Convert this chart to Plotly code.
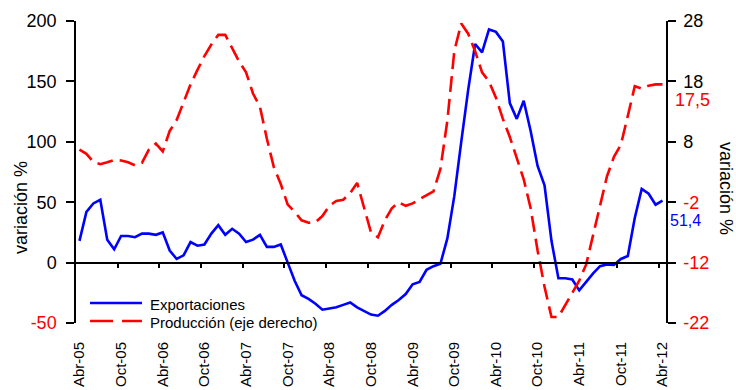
import plotly.graph_objects as go

# Monthly categories, Abr-05 .. Abr-12
abrev = ["Ene", "Feb", "Mar", "Abr", "May", "Jun", "Jul", "Ago", "Sep", "Oct", "Nov", "Dic"]
meses = [f"{abrev[(3 + k) % 12]}-{(5 + (3 + k) // 12):02d}" for k in range(85)]
idx = list(range(len(meses)))

# Exportaciones, variación % (eje izquierdo)
exportaciones = [
    18, 42, 49, 52, 19, 11, 22, 22, 21, 24, 24, 23, 25, 10, 3, 6, 17, 14, 15, 24,
    31, 23, 28, 24, 17, 19, 23, 13, 13, 15, 0, -15, -27, -30, -34, -39, -38, -37, -35, -33,
    -37, -40, -43, -44, -40, -35, -31, -26, -18, -16, -6, -3, -1, 20, 55, 100, 143, 181, 174, 193,
    191, 183, 132, 119, 134, 109, 80, 64, 18, -13, -13, -14, -23, -16, -9, -3, -1.5, -2, 3, 5.5,
    37, 61, 57, 48, 51.4,
]

# Producción, variación % (eje derecho)
produccion = [
    6.7, 6.0, 4.7, 4.3, 4.6, 5.0, 4.9, 4.6, 4.1, 4.5, 6.7, 7.7, 6.4, 9.8, 11.6, 14.7, 17.5, 19.9, 22.2, 24.1,
    25.7, 25.7, 23.5, 21.3, 19.5, 16.0, 13.8, 8.5, 3.8, 1.0, -2.4, -3.6, -5.0, -5.4, -5.3, -4.3, -2.6, -1.8, -1.6, -0.5,
    1.2, -3.0, -7.0, -7.8, -5.0, -3.0, -2.0, -2.6, -2.2, -1.5, -0.8, -0.2, 3.5, 11.5, 23.0, 27.6, 25.9, 23.0, 19.5, 18.0,
    15.3, 11.8, 8.8, 5.2, 1.8, -3.0, -10.0, -16.0, -21.0, -21.0, -19.0, -17.0, -15.0, -12.3, -7.3, -2.3, 2.3, 5.5, 7.5, 12.3,
    17.2, 16.8, 17.3, 17.5, 17.5,
]

izq_ticks = [-50, 0, 50, 100, 150, 200]
der_ticks = [-22, -12, -2, 8, 18, 28]

W, H = 736, 390
ML, MR, MT, MB = 76, 70, 21, 67
PW, PH = W - ML - MR, H - MT - MB

FONT = "Liberation Sans, Arial, sans-serif"
AZUL, ROJO = "#0000FF", "#FF0000"


def px(x):
    return (x - ML) / PW


def py(y):
    return (H - MB - y) / PH


def etiqueta(v):
    txt = f"{v:g}"
    return f"<span style='color:{ROJO}'>{txt}</span>" if v < 0 else txt


def coma(v):
    return f"{v:.1f}".replace(".", ",")


xr = [-0.5, len(meses) - 0.5]
yr = [izq_ticks[0], izq_ticks[-1]]
y2r = [der_ticks[0], der_ticks[-1]]

fig = go.Figure()
fig.add_trace(go.Scatter(
    x=idx, y=exportaciones, name="Exportaciones", mode="lines",
    line=dict(color=AZUL, width=2.6), showlegend=False,
))
fig.add_trace(go.Scatter(
    x=idx, y=produccion, name="Producción (eje derecho)", mode="lines",
    xaxis="x2", yaxis="y2",
    line=dict(color=ROJO, width=2.6, dash="16px,7px"), showlegend=False,
))

ejes = dict(showgrid=False, zeroline=False, linecolor="black", linewidth=1.5,
            tickcolor="black", tickwidth=1.5, automargin=False)

fig.update_layout(
    width=W, height=H,
    margin=dict(l=ML, r=MR, t=MT, b=MB, pad=0),
    paper_bgcolor="white", plot_bgcolor="white",
    font=dict(family=FONT, color="black", size=18),
    xaxis=dict(
        range=xr, showgrid=False, zeroline=False, showline=False, ticks="",
        automargin=False,
        tickmode="array", tickvals=idx[::6], ticktext=meses[::6],
        tickangle=-90, tickfont=dict(size=15), ticklabelstandoff=15,
    ),
    xaxis2=dict(
        ejes, range=xr, overlaying="x", anchor="free",
        position=(0 - yr[0]) / (yr[1] - yr[0]),
        showline=True, ticks="outside", ticklen=5,
        tickmode="array", tickvals=[i - 0.5 for i in idx[6::6]],
        showticklabels=False,
    ),
    yaxis=dict(
        ejes, range=yr, showline=True, ticks="outside", ticklen=8,
        tickmode="array", tickvals=izq_ticks, ticktext=[etiqueta(v) for v in izq_ticks],
        tickfont=dict(size=18), ticklabelstandoff=6,
    ),
    yaxis2=dict(
        ejes, range=y2r, overlaying="y", side="right", anchor="x",
        showline=True, ticks="outside", ticklen=8,
        tickmode="array", tickvals=der_ticks, ticktext=[etiqueta(v) for v in der_ticks],
        tickfont=dict(size=18), ticklabelstandoff=4,
    ),
)

# Axis titles
fig.add_annotation(xref="paper", yref="paper", x=px(21), y=py(208), text="variación %",
                   textangle=-90, showarrow=False, xanchor="center", yanchor="middle",
                   font=dict(size=18))
fig.add_annotation(xref="paper", yref="paper", x=px(726), y=py(188), text="variación %",
                   textangle=90, showarrow=False, xanchor="center", yanchor="middle",
                   font=dict(size=18))

# Last-value labels
fig.add_annotation(x=idx[-1], y=produccion[-1], xref="x2", yref="y2", text=coma(produccion[-1]),
                   showarrow=False, xshift=30, yshift=-16, font=dict(size=18, color=ROJO))
fig.add_annotation(x=idx[-1], y=exportaciones[-1], xref="x", yref="y", text=coma(exportaciones[-1]),
                   showarrow=False, xshift=23, yshift=-20, borderpad=0,
                   font=dict(size=16, color=AZUL))

# Legend drawn inside the plot area
fig.add_shape(type="line", xref="paper", yref="paper", x0=px(90), x1=px(142), y0=py(303), y1=py(303),
              line=dict(color=AZUL, width=2.6))
fig.add_shape(type="line", xref="paper", yref="paper", x0=px(90), x1=px(142), y0=py(321), y1=py(321),
              line=dict(color=ROJO, width=2.6, dash="23px,9px"))
fig.add_annotation(xref="paper", yref="paper", x=px(148), y=py(304), text="Exportaciones",
                   xanchor="left", yanchor="middle", showarrow=False, font=dict(size=15))
fig.add_annotation(xref="paper", yref="paper", x=px(148), y=py(322), text="Producción (eje derecho)",
                   xanchor="left", yanchor="middle", showarrow=False, font=dict(size=15))

fig.write_html("out.html")
